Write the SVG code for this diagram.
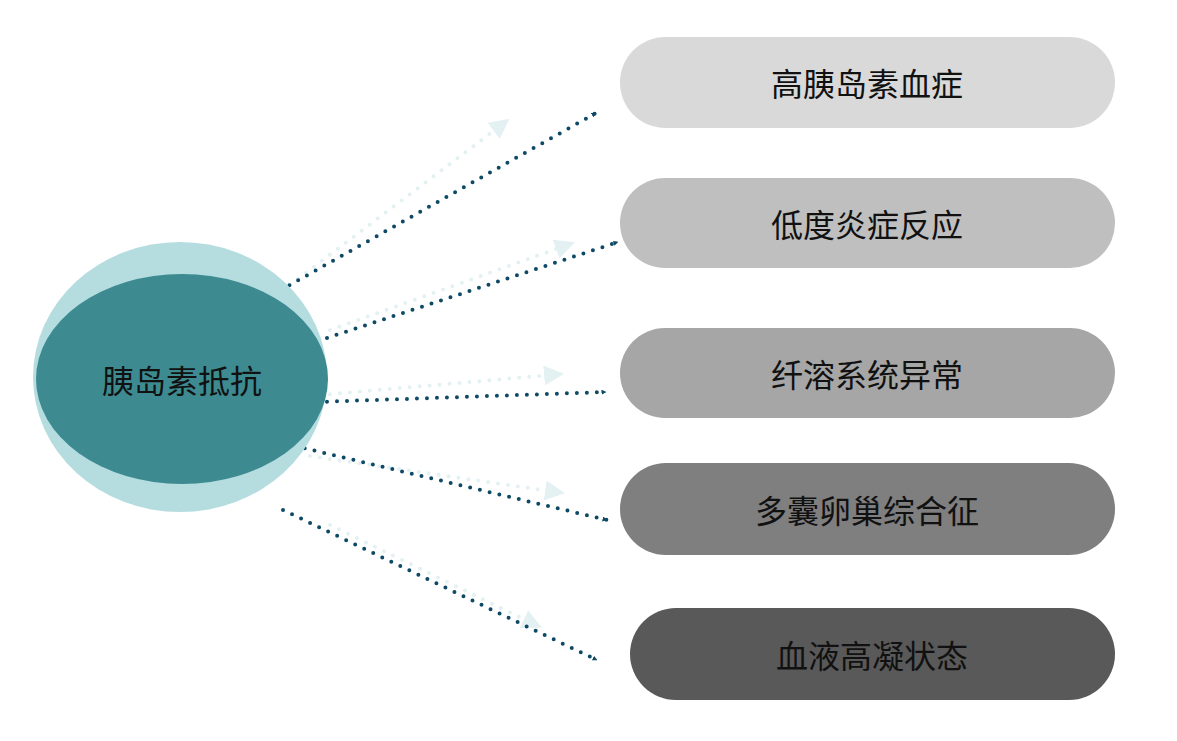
<svg xmlns="http://www.w3.org/2000/svg" width="1177" height="741" viewBox="0 0 1177 741">
<defs>
<marker id="ad" viewBox="0 0 10 10" refX="9" refY="5" markerWidth="5" markerHeight="5" orient="auto" markerUnits="userSpaceOnUse"><path d="M0,0L10,5L0,10z" fill="#0e4a66"/></marker>
<marker id="al" viewBox="0 0 10 10" refX="9" refY="5" markerWidth="5" markerHeight="5" orient="auto"><path d="M0,0L10,5L0,10z" fill="#e3f1f3"/></marker>
<style>
.d{stroke:#0e4a66;stroke-width:4;stroke-dasharray:0 10;stroke-linecap:round;fill:none}
.l{stroke:#e3f1f3;stroke-width:4;stroke-dasharray:0 10;stroke-linecap:round;fill:none}
text{font-family:"Noto Sans CJK SC","Liberation Sans",sans-serif;font-size:32px;fill:#111;text-anchor:middle;dominant-baseline:central}
</style>
</defs>
<rect width="1177" height="741" fill="#fff"/>
<g id="connectors">
<path class="l" d="M290,285L508,120" marker-end="url(#al)"/>
<path class="l" d="M330,330L573,243" marker-end="url(#al)"/>
<path class="l" d="M320,395L562,374" marker-end="url(#al)"/>
<path class="l" d="M310,456L563,493" marker-end="url(#al)"/>
<path class="l" d="M330,525L540,627" marker-end="url(#al)"/>
<path class="d" d="M272,295L596,113" marker-end="url(#ad)"/>
<path class="d" d="M327,338L618,242" marker-end="url(#ad)"/>
<path class="d" d="M317,402L606,392" marker-end="url(#ad)"/>
<path class="d" d="M295,446L607,520" marker-end="url(#ad)"/>
<path class="d" d="M283,510L597,660" marker-end="url(#ad)"/>
</g>
<g id="center">
<ellipse cx="180" cy="377" rx="147" ry="135" fill="#b5dde0"/>
<ellipse cx="182" cy="379" rx="146" ry="105" fill="#3d8b91"/>
<text x="182" y="379">胰岛素抵抗</text>
</g>
<g id="n1"><rect x="620" y="37" width="495" height="91" rx="45.5" fill="#d9d9d9"/><text x="867" y="82">高胰岛素血症</text></g>
<g id="n2"><rect x="620" y="178" width="495" height="90" rx="45" fill="#bfbfbf"/><text x="867" y="223">低度炎症反应</text></g>
<g id="n3"><rect x="620" y="328" width="495" height="90" rx="45" fill="#a6a6a6"/><text x="867" y="373">纤溶系统异常</text></g>
<g id="n4"><rect x="620" y="463" width="495" height="92" rx="46" fill="#7f7f7f"/><text x="867" y="509">多囊卵巢综合征</text></g>
<g id="n5"><rect x="630" y="608" width="485" height="92" rx="46" fill="#595959"/><text x="872" y="654">血液高凝状态</text></g>
</svg>
